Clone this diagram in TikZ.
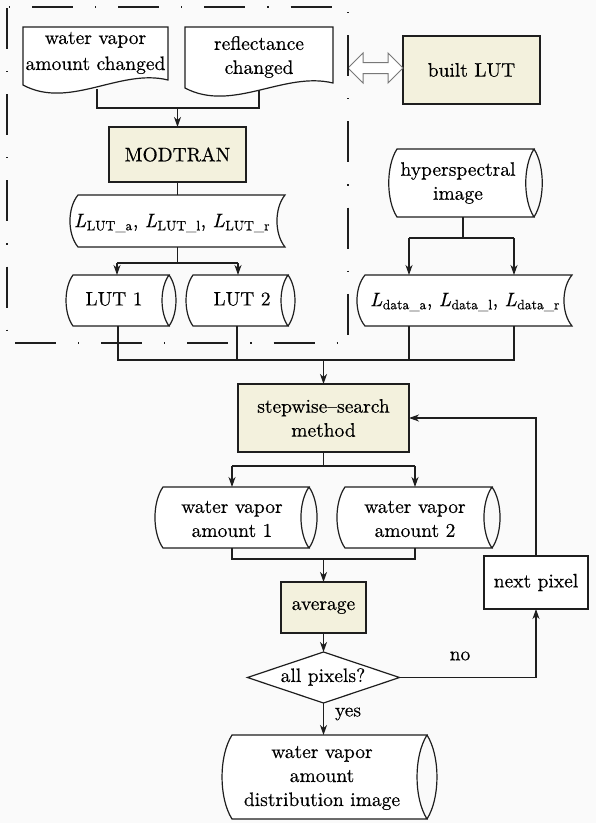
\documentclass[tikz,border=0pt]{standalone}
\usepackage{fontspec}
\setmainfont{lmroman10-regular.otf}[ItalicFont=lmroman10-italic.otf, FakeBold=0.35]
\usetikzlibrary{arrows.meta,calc}
\definecolor{beige}{RGB}{243,241,221}
\definecolor{bg}{RGB}{250,250,250}
\definecolor{ln}{RGB}{30,30,30}
\definecolor{dag}{RGB}{120,120,120}
\tikzset{
 shp/.style={inner sep=0pt, outer sep=0pt, draw=none},
 txt/.style={font=\fontsize{19.5}{24}\selectfont, align=center, inner sep=0pt},
 outl/.style={draw=ln, line width=1.2pt, fill=white},
 arr/.style={-{Stealth[length=10pt,width=7pt,inset=3pt]}, draw=ln, line width=1.1pt},
 con/.style={draw=ln, line width=1.1pt},
 frame/.style={line width=2.6pt, draw=ln, dash pattern=on 41pt off 22pt on 1.2pt off 22pt},
}
\newcommand\Lsub[1]{\textit{L}\kern0.5pt\textsubscript{#1}}
\newcommand\cylpath[2]{%
 \draw[outl] (#1.north west) .. controls ($(#1.north west)!0.25!(#1.south west)+(-#2,0)$) and ($(#1.north west)!0.75!(#1.south west)+(-#2,0)$) .. (#1.south west) -- (#1.south east) .. controls ($(#1.north east)!0.75!(#1.south east)+(-#2,0)$) and ($(#1.north east)!0.25!(#1.south east)+(-#2,0)$) .. (#1.north east) -- cycle;
 \draw[outl, fill=none] (#1.north east) .. controls ($(#1.north east)!0.25!(#1.south east)+(#2,0)$) and ($(#1.north east)!0.75!(#1.south east)+(#2,0)$) .. (#1.south east);
}
\newcommand\stpath[2]{%
 \draw[outl] (#1.north west) .. controls ($(#1.north west)!0.25!(#1.south west)+(-#2,0)$) and ($(#1.north west)!0.75!(#1.south west)+(-#2,0)$) .. (#1.south west) -- (#1.south east) .. controls ($(#1.north east)!0.75!(#1.south east)+(-#2,0)$) and ($(#1.north east)!0.25!(#1.south east)+(-#2,0)$) .. (#1.north east) -- cycle;
}
\newcommand\docpath[1]{%
 \draw[outl] (#1.south west) -- (#1.north west) -- (#1.north east) -- ($(#1.south east)+(0,-5)$) .. controls ($(#1.south west)!0.67!(#1.south east)+(0,-17)$) and ($(#1.south west)!0.32!(#1.south east)+(0,25)$) .. (#1.south west) -- cycle;
}
\begin{document}
\begin{tikzpicture}[x=1pt,y=-1pt]
\fill[bg] (0,0) rectangle (596,823);
\useasboundingbox (0,0) rectangle (596,823);

% shape placeholders
\node[shp, minimum width=145, minimum height=58] (doc1) at (95.5,56) {};
\node[shp, minimum width=148, minimum height=61] (doc2) at (259,57.5) {};
\node[shp, minimum width=137, minimum height=55] (modtran) at (177.5,154.5) {};
\node[shp, minimum width=137, minimum height=68] (built) at (471.5,70) {};
\node[shp, minimum width=207, minimum height=52] (lutl) at (181.5,221) {};
\node[shp, minimum width=96, minimum height=51] (lut1) at (121,300.5) {};
\node[shp, minimum width=95, minimum height=51] (lut2) at (240.5,300.5) {};
\node[shp, minimum width=137, minimum height=68] (hyper) at (465.5,183) {};
\node[shp, minimum width=207, minimum height=51] (ldata) at (468.5,300.5) {};
\node[shp, minimum width=171, minimum height=68] (step) at (323.5,418) {};
\node[shp, minimum width=146, minimum height=61] (amt1) at (236,517.5) {};
\node[shp, minimum width=147, minimum height=61] (amt2) at (418.5,517.5) {};
\node[shp, minimum width=85, minimum height=51] (avg) at (323.5,607.5) {};
\node[shp, minimum width=152, minimum height=51] (dia) at (323.5,677.5) {};
\node[shp, minimum width=104, minimum height=53] (next) at (536,582.5) {};
\node[shp, minimum width=195, minimum height=84] (final) at (329.5,777) {};

% outlines
\docpath{doc1}
\docpath{doc2}
\draw[outl, fill=beige] (modtran.north west) rectangle (modtran.south east);
\draw[outl, fill=beige] (built.north west) rectangle (built.south east);
\stpath{lutl}{10.7}
\cylpath{lut1}{9.3}
\cylpath{lut2}{9.3}
\cylpath{hyper}{11}
\stpath{ldata}{10.7}
\draw[outl, fill=beige] (step.north west) rectangle (step.south east);
\cylpath{amt1}{10.7}
\cylpath{amt2}{10.7}
\draw[outl, fill=beige] (avg.north west) rectangle (avg.south east);
\draw[outl] (dia.north) -- (dia.east) -- (dia.south) -- (dia.west) -- cycle;
\draw[outl] (next.north west) rectangle (next.south east);
\cylpath{final}{13.3}

% texts
\node[txt, font=\fontsize{19.5}{26}\selectfont] (doc1-t) at (95.5,53) {water vapor\\amount changed};
\node[txt] (doc2-t) at (259,57) {reflectance\\changed};
\node[txt] (modtran-t) at (177.5,154.5) {MODTRAN};
\node[txt] (built-t) at (471.5,70) {built LUT};
\node[txt] (lutl-t) at (172,223) {\Lsub{LUT\_a}, \Lsub{LUT\_l}, \Lsub{LUT\_r}};
\node[txt] (lut1-t) at (114,299) {LUT 1};
\node[txt] (lut2-t) at (242,299) {LUT 2};
\node[txt] (hyper-t) at (458,183) {hyperspectral\\image};
\node[txt] (ldata-t) at (465,302) {\Lsub{data\_a}, \Lsub{data\_l}, \Lsub{data\_r}};
\node[txt] (step-t) at (323.5,418) {stepwise--search\\method};
\node[txt] (amt1-t) at (232,519) {water vapor\\amount 1};
\node[txt] (amt2-t) at (415,519) {water vapor\\amount 2};
\node[txt] (avg-t) at (323.5,607.5) {average};
\node[txt] (dia-t) at (323,677) {all pixels?};
\node[txt] (next-t) at (536,582.5) {next pixel};
\node[txt] (final-t) at (322,778) {water vapor\\amount\\distribution image};
\node[txt] (no) at (460,656) {no};
\node[txt] (yes) at (348,714) {yes};

% connectors
\coordinate (d1b) at (97,89);
\coordinate (d2b) at (259,90);
\coordinate (j1) at (177.5,108);
\draw[con] (d1b) |- (j1) -| (d2b);
\draw[arr] (j1) -- (modtran.north);
\draw[con] (modtran.south) -- (modtran.south |- lutl.north);
\coordinate (j2) at (177.5,263);
\draw[con] (modtran.south |- lutl.south) -- (j2);
\coordinate (a1) at (117,263);
\coordinate (a2) at (238,263);
\draw[con] (a1) -- (a2);
\draw[arr] (a1) -- (a1 |- lut1.north);
\draw[arr] (a2) -- (a2 |- lut2.north);

\coordinate (j3) at (463,238);
\coordinate (a3) at (409,238);
\coordinate (a4) at (514,238);
\draw[con] (j3 |- hyper.south) -- (j3);
\draw[con] (a3) -- (a4);
\draw[arr] (a3) -- (a3 |- ldata.north);
\draw[arr] (a4) -- (a4 |- ldata.north);

\coordinate (b1) at (118,360);
\coordinate (b2) at (237,360);
\coordinate (b3) at (409,360);
\coordinate (b4) at (514,360);
\coordinate (j4) at (323.5,360);
\draw[con] (b1 |- lut1.south) -- (b1) -- (b4) -- (b4 |- ldata.south);
\draw[con] (b2 |- lut2.south) -- (b2);
\draw[con] (b3 |- ldata.south) -- (b3);
\draw[arr] (j4) -- (step.north);

\coordinate (j5) at (323.5,466);
\coordinate (c1) at (232,466);
\coordinate (c2) at (415,466);
\draw[con] (step.south) -- (j5);
\draw[con] (c1) -- (c2);
\draw[arr] (c1) -- (c1 |- amt1.north);
\draw[arr] (c2) -- (c2 |- amt2.north);
\coordinate (j6) at (323.5,559);
\draw[con] (c1 |- amt1.south) |- (j6) -| (c2 |- amt2.south);
\draw[arr] (j6) -- (avg.north);
\draw[arr] (avg.south) -- (dia.north);
\draw[arr] (dia.east) -| (next.south);
\draw[arr] (next.north) |- (step.east);
\draw[arr] (dia.south) -- (final.north -| dia.south);

% double arrow
\coordinate (dl) at (348,68);
\draw[dag, line width=1pt, fill=white, line join=miter] (dl) -- ++(15,-15) -- ++(0,9.5) -- ++(25,0) -- ++(0,-9.5) -- ++(15,15) -- ++(-15,15) -- ++(0,-9.5) -- ++(-25,0) -- ++(0,9.5) -- cycle;

% dash-dot frame, each side dashed from its top/left end
\coordinate (fnw) at (7,7);
\coordinate (fne) at (348,7);
\coordinate (fsw) at (7,343);
\coordinate (fse) at (348,343);
\draw[frame, dash phase=61.2pt] (fnw) -- (fne);
\draw[frame, dash phase=58pt] (fne) -- (fse);
\draw[frame, dash phase=-1pt] (fnw) -- (fsw);
\draw[frame, dash phase=78.2pt] (fsw) -- (fse);
\end{tikzpicture}
\end{document}
